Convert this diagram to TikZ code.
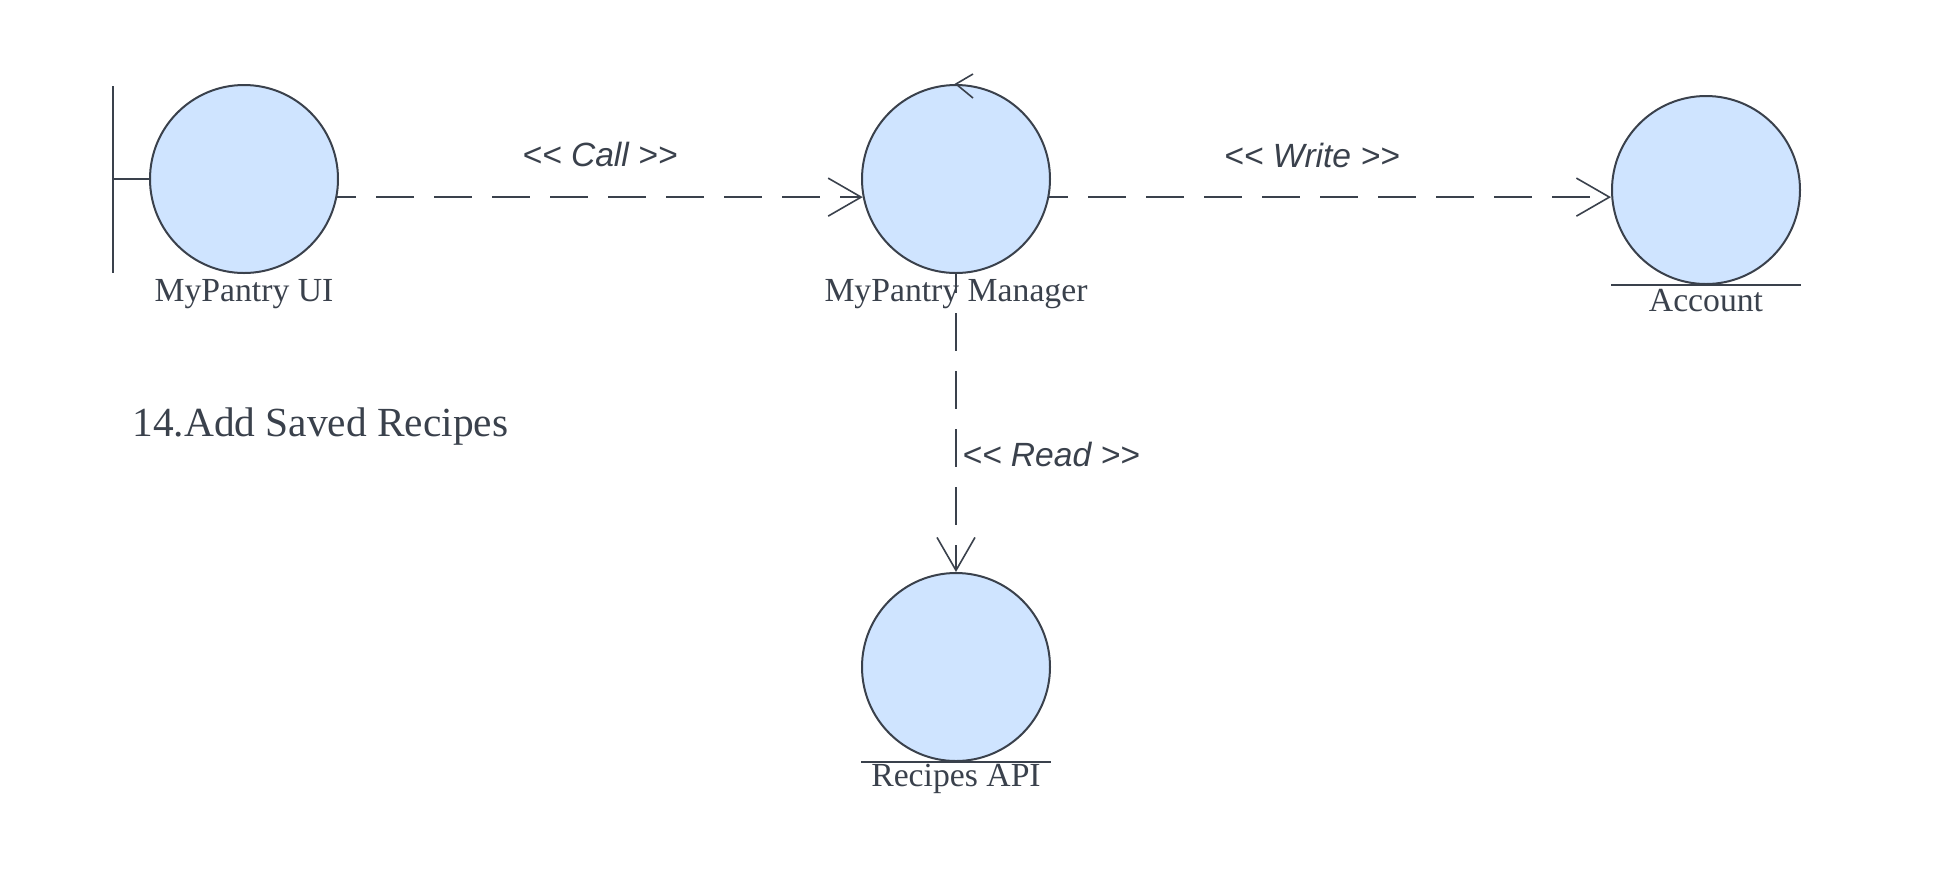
\documentclass[tikz,border=0pt]{standalone}
\usepackage{fontspec}
\setmainfont{Liberation Serif}
\newfontfamily\stereofont{Liberation Sans}
\usetikzlibrary{arrows.meta,calc}
\definecolor{ink}{RGB}{58,65,76}
\definecolor{objfill}{RGB}{207,228,255}
\tikzset{
  obj/.style={circle, draw=ink, fill=objfill, line width=1pt, minimum size=94pt, inner sep=0pt},
  objlabel/.style={anchor=base, text=ink, font=\fontsize{16.85pt}{18pt}\selectfont, inner sep=0pt},
  stereo/.style={text=ink, font=\stereofont\itshape\fontsize{16.8pt}{19pt}\selectfont, inner sep=0pt},
  msg/.style={draw=ink, line width=0.8pt, dash pattern=on 19pt off 10pt, dash phase=9.5pt,
              -{Straight Barb[length=16.5pt, width=19pt, line width=0.8pt]}},
  deco/.style={draw=ink, line width=1pt}
}
\begin{document}
\begin{tikzpicture}[x=0.5pt, y=-0.5pt]
\useasboundingbox (0,0) rectangle (1950,874);
% objects
\node[obj] (ui) at (244,179) {};
\node[obj] (mgr) at (956,179) {};
\node[obj] (acc) at (1706,190) {};
\node[obj] (api) at (956,667) {};
% boundary symbol
\coordinate (bTop) at (113,86);
\coordinate (bBot) at (113,273);
\draw[deco] (bTop) -- (bBot);
\draw[deco] (bTop |- ui.west) -- (ui.west);
% entity underlines
\draw[deco] (acc.west |- acc.south) -- (acc.east |- acc.south);
\draw[deco] (api.west |- api.south) -- (api.east |- api.south);
% labels
\node[objlabel] (uil) at (244,301) {MyPantry UI};
\node[objlabel] (mgrl) at (956,301) {MyPantry Manager};
\node[objlabel] (accl) at (1706,311) {Account};
\node[objlabel] (apil) at (956,786) {Recipes API};
% title
\node[anchor=base west, text=ink, inner sep=0pt, font=\fontsize{20.7pt}{24pt}\selectfont] (title) at (132,436) {14.Add Saved Recipes};
% messages
\coordinate (wEnd) at (acc.west |- mgr.-11.66);
\draw[msg] (ui.-11.66) -- (mgr.191.66);
\draw[msg] (mgr.-11.66) -- (wEnd);
\draw[msg] (mgr.south) -- (api.north);
% self arrow stub at top of manager
\draw[draw=ink, line width=0.8pt] ($(mgr.north)+(17,-10)$) -- (mgr.north) -- ($(mgr.north)+(17,14)$);
% stereotype labels
\node[stereo, anchor=base] (lcall) at (600,166) {<< Call >>};
\node[stereo, anchor=base] (lwrite) at (1312,167) {<< Write >>};
\node[stereo, anchor=base west] (lread) at (962,466) {<< Read >>};
\end{tikzpicture}
\end{document}
